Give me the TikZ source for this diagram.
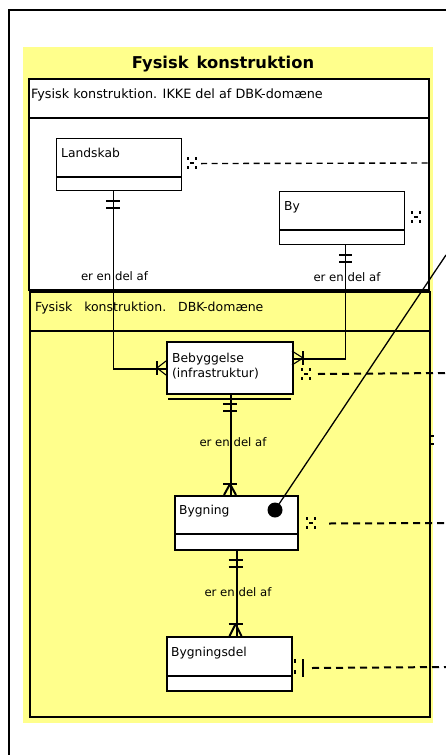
\documentclass[tikz,border=0pt]{standalone}
\usepackage{fontspec}
\setmainfont{DejaVu Sans}
\usetikzlibrary{calc}
\definecolor{pkgyellow}{RGB}{255,255,140}
\begin{document}
\begin{tikzpicture}[x=1pt,y=-1pt,
  entity/.style={draw, fill=white, line width=1.1pt, inner sep=0pt, anchor=north west},
  entthick/.style={entity, line width=2pt},
  etext/.style={font=\fontsize{12.3}{14.5}\selectfont, inner sep=0pt, anchor=west, align=left},
  htext/.style={font=\fontsize{12.8}{15}\selectfont, inner sep=0pt, anchor=west},
  rlabel/.style={font=\fontsize{11.7}{13}\selectfont, inner sep=0pt},
  conn/.style={line width=1.1pt},
  connthick/.style={line width=2pt},
  dep/.style={line width=1.4pt, dash pattern=on 6pt off 4.5pt},
  depthick/.style={line width=2pt, dash pattern=on 7pt off 5pt},
  depmark/.pic={
    \draw (0,-6) -- (0,-3); \draw (0,3) -- (0,6);
    \draw (2,0) -- (6,0);
    \draw (8,-6) -- (8,-3); \draw (8,3) -- (8,6);
  }
]
\useasboundingbox (0,0) rectangle (445,755);

% outer frame
\draw[line width=2.2pt] (9,760) -- (9,10) -- (450,10);

% package
\fill[pkgyellow] (23,47) rectangle (433,723);
\node[font=\bfseries\fontsize{16.3}{18}\selectfont, inner sep=0pt] (title) at (223,64) {Fysisk\hspace{0.5em}konstruktion};

% box 1
\draw[fill=white, line width=1.2pt] (29,79) rectangle (429,290);
\draw[line width=1.2pt] (29,118) -- (429,118);
\node[htext] (h1) at (31,95) {Fysisk konstruktion. IKKE del af DBK-domæne};

% box 2
\draw[fill=pkgyellow, line width=2pt] (30,292) rectangle (430,717);
\draw[line width=2pt] (30,331) -- (430,331);
\node[htext, font=\fontsize{12.5}{15}\selectfont] (h2) at (35,308) {Fysisk\hspace{0.95em}konstruktion.\hspace{0.95em}DBK-domæne};

% entities
\node[entity, minimum width=125pt, minimum height=52pt] (land) at (56,138) {};
\draw[conn] (land.west |- 0,177) -- (land.east |- 0,177);
\node[etext] (landt) at (61,153) {Landskab};

\node[entity, minimum width=125pt, minimum height=53pt] (by) at (279,191) {};
\draw[conn] (by.west |- 0,230) -- (by.east |- 0,230);
\node[etext] (byt) at (284,207) {By};

\node[entthick, minimum width=126pt, minimum height=52pt] (beb) at (166,341) {};
\draw[line width=1.6pt] (168,399) -- (291,399);
\node[etext] (bebt) at (172,366) {Bebyggelse\\(infrastruktur)};

\node[entthick, minimum width=123pt, minimum height=54pt] (byg) at (174,495) {};
\draw[connthick] (byg.west |- 0,534) -- (byg.east |- 0,534);
\node[etext] (bygt) at (179,511) {Bygning};

\node[entthick, minimum width=125pt, minimum height=54pt] (bygd) at (166,636) {};
\draw[connthick] (bygd.west |- 0,676) -- (bygd.east |- 0,676);
\node[etext] (bygdt) at (171,653) {Bygningsdel};

% Landskab -> Bebyggelse
\draw[conn] ([xshift=-5.5pt]land.south) |- ([yshift=-1pt]beb.west);
\draw[conn] (106,201) -- (120,201);
\draw[conn] (106,208) -- (120,208);
\draw[conn] (157,361) -- (157,375);
\draw[conn] (157,368) -- (166,361);
\draw[conn] (157,368) -- (166,375);
\node[rlabel] (l1) at (114.5,276) {er en del af};

% By -> Bebyggelse
\draw[conn] ([xshift=3.5pt]by.south) |- ([yshift=9pt]beb.east);
\draw[conn] (339,255) -- (352,255);
\draw[conn] (339,262) -- (352,262);
\draw[conn] (303,351) -- (303,365);
\draw[conn] (303,358) -- (292,351);
\draw[conn] (303,358) -- (292,365);
\node[rlabel] (l2) at (347,277) {er en del af};

% Bebyggelse -> Bygning
\draw[connthick] ([xshift=1pt]beb.south) -- ([xshift=1pt]beb.south |- byg.north);
\draw[connthick] (223,404) -- (237,404);
\draw[connthick] (223,411) -- (237,411);
\draw[connthick] (223,484) -- (237,484);
\draw[connthick] (230,484) -- (224,495);
\draw[connthick] (230,484) -- (236,495);
\node[rlabel] (l3) at (233,442) {er en del af};

% Bygning -> Bygningsdel
\draw[connthick] (byg.south) -- (byg.south |- bygd.north);
\draw[connthick] (228.5,560) -- (242.5,560);
\draw[connthick] (228.5,567) -- (242.5,567);
\draw[connthick] (228.5,624) -- (242.5,624);
\draw[connthick] (235.5,624) -- (229.5,636);
\draw[connthick] (235.5,624) -- (241.5,636);
\node[rlabel] (l4) at (238,592) {er en del af};

% dependency lines
\coordinate (e1) at (429,163);
\coordinate (e3) at (446,373);
\coordinate (e4) at (446,523);
\coordinate (e5) at (446,667);
\pic[line width=1.1pt] at (188,163) {depmark};
\draw[dep] ([xshift=19pt,yshift=1pt]land.east) -- (e1);
\pic[line width=1.1pt] at (412,217) {depmark};
\pic[line width=2pt] at (302,374) {depmark};
\draw[depthick] ([xshift=24pt,yshift=-6pt]beb.east) -- (e3);
\pic[line width=2pt] at (307,523) {depmark};
\draw[depthick] ([xshift=30pt,yshift=-0.5pt]byg.east) -- (e4);
\draw[line width=2pt] (295,659) -- (295,663);
\draw[line width=2pt] (295,670) -- (295,674);
\draw[line width=2pt] (303,659) -- (303,677);
\draw[depthick] ([xshift=19pt,yshift=-4pt]bygd.east) -- (e5);
\draw[line width=1.5pt] (430,436) -- (434,436);
\draw[line width=1.5pt] (430,444) -- (434,444);

% note link
\node[circle, fill=black, inner sep=0pt, minimum size=15pt] (dot) at (275,510) {};
\coordinate (noteend) at (446,255);
\draw[line width=1.3pt] (dot.center) -- (noteend);
\end{tikzpicture}
\end{document}
